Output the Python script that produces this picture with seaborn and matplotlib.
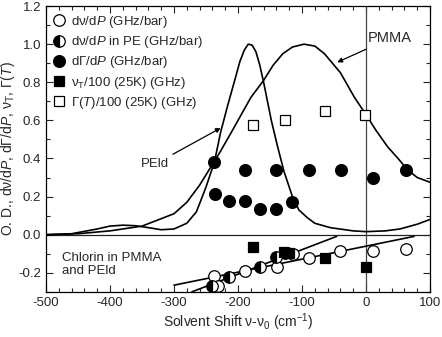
import matplotlib
matplotlib.use("Agg")
import matplotlib.pyplot as plt
from matplotlib.ticker import AutoMinorLocator, FormatStrFormatter
import seaborn as sns

# absorption bands (O. D.)
pmma_x = [-500, -450, -400, -350, -300, -280, -260, -237, -227, -210, -195, -180, -160, -145,
          -130, -115, -97, -80, -65, -40, -18, 0, 15, 34, 50, 65, 80, 100]
pmma_y = [0.0, 0.005, 0.02, 0.045, 0.11, 0.17, 0.26, 0.385, 0.44, 0.54, 0.63, 0.72, 0.81, 0.89,
          0.95, 0.985, 1.0, 0.99, 0.95, 0.85, 0.72, 0.63, 0.55, 0.46, 0.4, 0.34, 0.3, 0.275]
peld_x = [-500, -460, -420, -400, -380, -360, -340, -320, -300, -280, -265, -250, -237, -227,
          -216, -206, -197, -190, -184, -178, -172, -166, -160, -148, -138, -128, -115, -105,
          -92, -80, -56, -20, 0, 30, 53, 80, 100]
peld_y = [0.0, 0.005, 0.03, 0.045, 0.05, 0.047, 0.037, 0.026, 0.03, 0.06, 0.12, 0.25, 0.38, 0.54,
          0.68, 0.8, 0.91, 0.97, 1.0, 0.995, 0.96, 0.89, 0.8, 0.6, 0.46, 0.33, 0.2, 0.13,
          0.09, 0.06, 0.037, 0.02, 0.016, 0.02, 0.03, 0.055, 0.08]

# pressure shift data
dnu_x = [-237, -232, -189, -139, -114, -89, -40, 11, 62]
dnu_y = [-0.216, -0.27, -0.193, -0.172, -0.10, -0.12, -0.084, -0.084, -0.075]
dnu_pe_x = [-240, -214, -165, -140, -127]
dnu_pe_y = [-0.268, -0.224, -0.167, -0.119, -0.095]
dgam_x = [-237, -189, -140, -89, -39, 11, 62, -236, -214, -189, -165, -140, -115]
dgam_y = [0.38, 0.34, 0.34, 0.337, 0.337, 0.30, 0.337, 0.214, 0.175, 0.179, 0.135, 0.135, 0.17]
nut_x = [-176, -128, -120, -64, 0]
nut_y = [-0.067, -0.09, -0.098, -0.12, -0.17]
gamt_x = [-176, -127, -64, -1]
gamt_y = [0.577, 0.60, 0.647, 0.626]

# linear fits
fit1_x = [-300, 75]
fit1_y = [-0.265, -0.009]
fit2_x = [-272, -46]
fit2_y = [-0.30, -0.009]

sns.set_style("ticks")
plt.rcParams["font.family"] = ["Liberation Sans", "DejaVu Sans"]
plt.rcParams["mathtext.fontset"] = "custom"
plt.rcParams["mathtext.rm"] = "Liberation Sans"
plt.rcParams["mathtext.it"] = "Liberation Sans:italic"
plt.rcParams["axes.unicode_minus"] = False

fig = plt.figure(figsize=(4.42, 3.37), dpi=100)
ax = fig.add_axes([0.104, 0.134, 0.869, 0.848])

ax.axhline(0, color="#222222", lw=0.9, zorder=1)
ax.axvline(0, color="#444444", lw=0.9, zorder=1)

sns.lineplot(x=pmma_x, y=pmma_y, color="black", lw=1.2, estimator=None, sort=False, ax=ax)
sns.lineplot(x=peld_x, y=peld_y, color="black", lw=1.2, estimator=None, sort=False, ax=ax)
sns.lineplot(x=fit1_x, y=fit1_y, color="black", lw=1.2, estimator=None, sort=False, ax=ax)
sns.lineplot(x=fit2_x, y=fit2_y, color="black", lw=1.2, estimator=None, sort=False, ax=ax)

mk = dict(color="black", linestyle="", estimator=None, sort=False, ax=ax,
          markeredgecolor="black", markeredgewidth=0.9)
handles = []
sns.lineplot(x=dnu_x, y=dnu_y, marker="o", markersize=8.3, markerfacecolor="white", **mk)
handles.append(ax.lines[-1])
sns.lineplot(x=dnu_pe_x, y=dnu_pe_y, marker="o", markersize=8.3, fillstyle="left",
             markerfacecolor="black", markerfacecoloralt="white", **mk)
handles.append(ax.lines[-1])
sns.lineplot(x=dgam_x, y=dgam_y, marker="o", markersize=8.5, markerfacecolor="black", **mk)
handles.append(ax.lines[-1])
sns.lineplot(x=nut_x, y=nut_y, marker="s", markersize=7, markerfacecolor="black", **mk)
handles.append(ax.lines[-1])
sns.lineplot(x=gamt_x, y=gamt_y, marker="s", markersize=7.5, markerfacecolor="white", **mk)
handles.append(ax.lines[-1])

labels = ["dν/d$P$ (GHz/bar)",
          "dν/d$P$ in PE (GHz/bar)",
          "dΓ/d$P$ (GHz/bar)",
          "ν$_\\mathrm{T}$/100 (25K) (GHz)",
          "Γ($T$)/100 (25K) (GHz)"]
ax.legend(handles, labels, loc="upper left", frameon=False, fontsize=9.5,
          handlelength=0.8, handletextpad=0.5, labelspacing=0.32,
          borderaxespad=0.2, bbox_to_anchor=(0.0, 1.0))

ax.annotate("PMMA", xy=(-45, 0.905), xytext=(3, 1.03), fontsize=10.5, ha="left", va="center",
            arrowprops=dict(arrowstyle="-|>", color="black", lw=0.9, mutation_scale=7,
                            shrinkA=1, shrinkB=0))
ax.annotate("PEld", xy=(-227, 0.56), xytext=(-330, 0.37), fontsize=9.5, ha="center", va="center",
            arrowprops=dict(arrowstyle="-|>", color="black", lw=0.9, mutation_scale=7,
                            shrinkA=1, shrinkB=0))
ax.text(-475, -0.155, "Chlorin in PMMA\nand PEld", fontsize=9.5, ha="left", va="center",
        linespacing=1.1)

ax.set_xlim(-500, 100)
ax.set_ylim(-0.3, 1.2)
ax.set_xticks([-500, -400, -300, -200, -100, 0, 100])
ax.set_yticks([-0.2, 0.0, 0.2, 0.4, 0.6, 0.8, 1.0, 1.2])
ax.yaxis.set_major_formatter(FormatStrFormatter("%.1f"))
ax.xaxis.set_minor_locator(AutoMinorLocator(5))
ax.yaxis.set_minor_locator(AutoMinorLocator(2))
ax.tick_params(which="both", direction="in", top=True, right=True, labelsize=9.5, width=0.8)
ax.tick_params(which="major", length=5)
ax.tick_params(which="minor", length=3)
for s in ax.spines.values():
    s.set_linewidth(0.9)
    s.set_color("black")

ax.set_xlabel("Solvent Shift ν-ν$_0$ (cm$^{-1}$)", fontsize=10, labelpad=2)
ax.set_ylabel("O. D., dν/d$P$, dΓ/d$P$, ν$_\\mathrm{T}$, Γ($T$)",
              fontsize=10, labelpad=1)

fig.savefig("out.png", dpi=100)
